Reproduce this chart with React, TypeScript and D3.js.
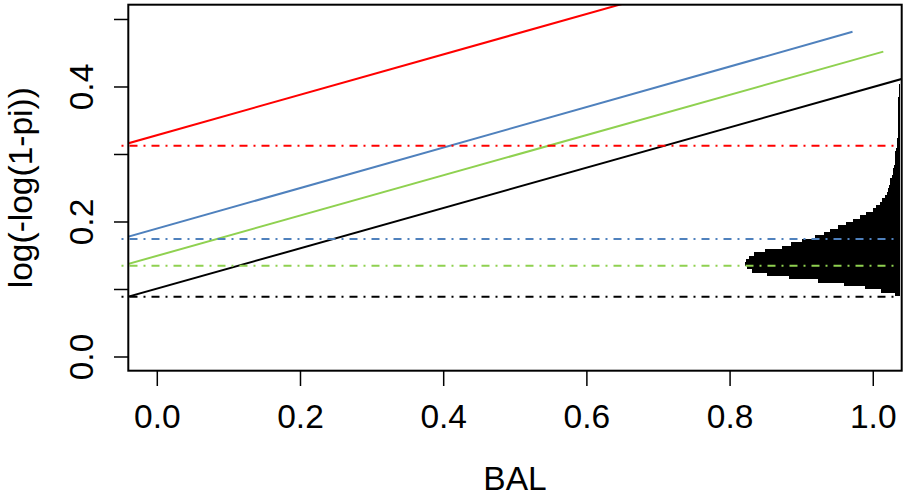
import React from "react";
import * as d3 from "d3";

// ---- data ----
const xTicks = [0, 0.2, 0.4, 0.6, 0.8, 1.0];
const xTickLabels = ["0.0", "0.2", "0.4", "0.6", "0.8", "1.0"];
const yTicks = [0, 0.1, 0.2, 0.3, 0.4, 0.5];
const yTickLabels = ["0.0", "", "0.2", "", "0.4", ""];

// fitted lines per group: black, green, blue, red
const lineIntercepts = [0.1014, 0.150, 0.1904, 0.3287];
const lineSlopes = [0.2986, 0.2982, 0.300, 0.2993];
const lineStartX = [-0.06, -0.06, -0.06, -0.06];
const lineEndX = [1.06, 1.014, 0.971, 0.75];
// horizontal reference levels
const hLevels = [0.0893, 0.1350, 0.1748, 0.3128];
const hStartX = -0.05;
const hEndX = 1.036;

// horizontal histogram: bins in y, each bar from histLeft to histRight
const histBinStart = 0.090;
const histBinWidth = 0.005;
const histRight = 1.038;
const histLeft = [
  1.030, 1.011, 0.988, 0.959, 0.923, 0.882, 0.852, 0.831, 0.824, 0.821,
  0.822, 0.826, 0.833, 0.849, 0.873, 0.885, 0.900, 0.919, 0.931, 0.940,
  0.951, 0.962, 0.972, 0.981, 0.990, 0.999, 1.004, 1.009, 1.012, 1.016,
  1.019, 1.020, 1.022, 1.023, 1.024, 1.026, 1.027, 1.028, 1.029, 1.030,
  1.030, 1.031, 1.031, 1.032, 1.033, 1.033, 1.033, 1.034, 1.034, 1.034,
  1.034, 1.035, 1.035, 1.035, 1.035, 1.035, 1.035, 1.035, 1.035, 1.036,
  1.036, 1.036, 1.036,
];

// ---- styles ----
const colors = ["#000000", "#8FD150", "#4F81BD", "#FF0000"];
const FONT = "'Liberation Sans', Arial, Helvetica, sans-serif";
const FS = 33.5;

export default function App() {
  const W = 903, H = 496;
  const left = 128.3, right = 901.7, top = 4.7, bottom = 370.7;
  const x = d3.scaleLinear().domain([-0.0405, 1.0397]).range([left, right]);
  const y = d3.scaleLinear().domain([-0.0203, 0.5219]).range([bottom, top]);

  const line = d3.line<[number, number]>().x((d) => x(d[0])).y((d) => y(d[1]));

  return (
    <svg width={W} height={H} style={{ position: "absolute", left: 0, top: 0, background: "#fff" }}>
      <defs>
        <clipPath id="plotclip">
          <rect x={left} y={top} width={right - left} height={bottom - top} />
        </clipPath>
      </defs>
      <rect x={0} y={0} width={W} height={H} fill="#fff" />

      {/* histogram */}
      <g shapeRendering="crispEdges">
        {histLeft.map((l, i) => {
          const lo = histBinStart + i * histBinWidth;
          const hi = lo + histBinWidth;
          return (
            <rect
              key={i}
              x={x(l)}
              y={y(hi)}
              width={x(histRight) - x(l)}
              height={y(lo) - y(hi)}
              fill="#000"
            />
          );
        })}
      </g>

      {/* fitted lines */}
      <g clipPath="url(#plotclip)">
        {lineIntercepts.map((a, i) => {
          const b = lineSlopes[i];
          const pts: [number, number][] = [
            [lineStartX[i], a + b * lineStartX[i]],
            [lineEndX[i], a + b * lineEndX[i]],
          ];
          return <path key={i} d={line(pts) || ""} stroke={colors[i]} strokeWidth={2} fill="none" />;
        })}
      </g>

      {/* horizontal dot-dash lines */}
      {hLevels.map((h, i) => (
        <path
          key={i}
          d={line([[hStartX, h], [hEndX, h]]) || ""}
          stroke={colors[i]}
          strokeWidth={2}
          strokeDasharray="2 6 8 6"
          fill="none"
        />
      ))}

      {/* box */}
      <rect x={left} y={top} width={right - left} height={bottom - top} fill="none" stroke="#000" strokeWidth={2} />

      {/* x axis */}
      {xTicks.map((t, i) => (
        <g key={i}>
          <line x1={x(t)} x2={x(t)} y1={bottom} y2={386} stroke="#000" strokeWidth={1.5} />
          <text x={x(t)} y={427.7} textAnchor="middle" fontFamily={FONT} fontSize={FS} fill="#000">
            {xTickLabels[i]}
          </text>
        </g>
      ))}
      <text x={(left + right) / 2} y={490.4} textAnchor="middle" fontFamily={FONT} fontSize={FS} fill="#000">
        BAL
      </text>

      {/* y axis */}
      {yTicks.map((t, i) => (
        <g key={i}>
          <line x1={114} x2={left} y1={y(t)} y2={y(t)} stroke="#000" strokeWidth={1.5} />
          {yTickLabels[i] && (
            <text
              transform={`translate(93,${y(t)}) rotate(-90)`}
              textAnchor="middle"
              fontFamily={FONT}
              fontSize={FS}
              fill="#000"
            >
              {yTickLabels[i]}
            </text>
          )}
        </g>
      ))}
      <text
        transform={`translate(32,${(top + bottom) / 2}) rotate(-90)`}
        textAnchor="middle"
        fontFamily={FONT}
        fontSize={FS}
        fill="#000"
      >
        log(-log(1-pi))
      </text>
    </svg>
  );
}
